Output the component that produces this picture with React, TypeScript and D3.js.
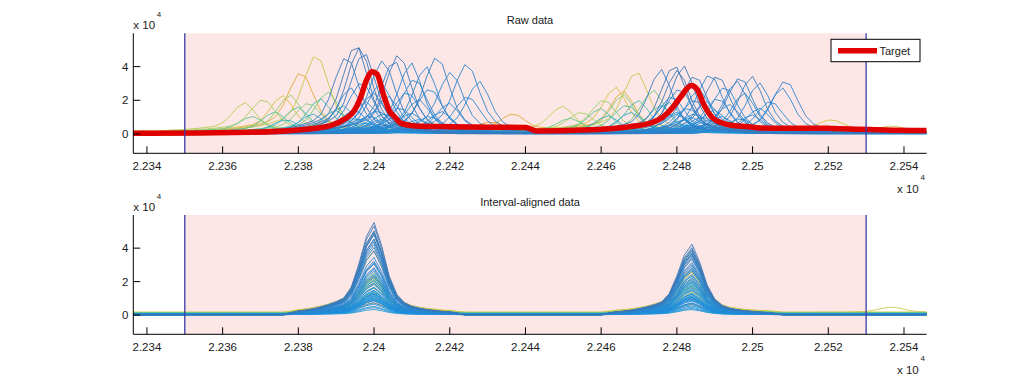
import React from "react";
import * as d3 from "d3";

// ---------- data ----------
const xTicks = [22340, 22360, 22380, 22400, 22420, 22440, 22460, 22480, 22500, 22520, 22540];
const xTickLabels = ["2.234", "2.236", "2.238", "2.24", "2.242", "2.244", "2.246", "2.248", "2.25", "2.252", "2.254"];
const yTicks = [0, 20000, 40000];
const yTickLabels = ["0", "2", "4"];
const xLimits = [22336.4, 22546];
const yLimits = [-11500, 59800];
const intervalBounds = [22350, 22530];
const alignedPeaks = [22400, 22484];
const sampleX = d3.range(22336, 22547, 2);

// normalised peak shape (offset from apex -> fraction of height)
const profileOffsets = [-24, -20, -18, -16, -14, -12, -10, -8, -6, -4, -2, 0, 2, 4, 6, 8, 10, 12, 14, 16, 18, 20, 24];
const profileShape = [0, 0.04, 0.05, 0.065, 0.085, 0.11, 0.14, 0.18, 0.3, 0.55, 0.85, 1.0, 0.75, 0.42, 0.22, 0.13, 0.09, 0.07, 0.055, 0.045, 0.035, 0.03, 0];

// per-trace peaks of the raw data
const rawPeak1 = [
  22388, 22381, 22376, 22385, 22366, 22371, 22378, 22383, 22388, 22368, 22374, 22380, 22386, 22390, 22377, 22384, 22392, 22395,
  22396, 22400, 22404, 22398, 22408, 22402, 22412, 22397, 22406, 22415, 22399, 22410, 22403, 22418, 22401, 22395,
  22407, 22420, 22398, 22412, 22404, 22425, 22400, 22409, 22394, 22415, 22402, 22428, 22397, 22411,
  22420.6, 22413.9, 22410, 22424.8, 22402.6, 22405.5, 22416.9, 22393, 22406.8, 22397.5, 22396.5, 22395.4,
];
const peak1Height = [
  6000, 37000, 21000, 48000, 17000, 20000, 22000, 18000, 24000, 9000, 12000, 15000, 20000, 13000, 8000, 11000, 16000, 9000,
  3000, 4000, 5000, 6000, 7000, 8000, 8500, 9000, 10000, 10500, 11000, 12000, 12500, 13000, 14000, 14500,
  16000, 18000, 19000, 20000, 22000, 23000, 24000, 26000, 27000, 28000, 30000, 31000, 32000, 34000,
  38000, 40000, 42000, 43500, 45000, 45000, 48000, 48000, 49000, 50000, 53000, 55000,
];
const rawPeak2 = [
  22474, 22466, 22464, 22469.5, 22450, 22455, 22461, 22466, 22474, 22452, 22460, 22467, 22470, 22476, 22462, 22468, 22478, 22480,
  22481, 22484, 22487, 22483, 22490, 22486, 22494, 22482, 22489, 22497, 22484, 22492, 22487, 22500, 22485, 22480,
  22490, 22502, 22483, 22494, 22488, 22505, 22485, 22491, 22479, 22498, 22486, 22508, 22481, 22493,
  22502, 22496, 22489, 22509, 22485, 22497, 22500, 22476, 22491, 22482, 22480.5, 22479.5,
];
const peak2Height = [
  5000, 24000, 26000, 37000, 15000, 12000, 20000, 22000, 25000, 8000, 14000, 17000, 19000, 16000, 10000, 12000, 18000, 11000,
  3000, 3500, 4500, 5000, 6000, 6500, 7000, 8000, 8500, 9000, 9500, 10000, 10500, 11000, 12000, 12500,
  14000, 15000, 16000, 17000, 19000, 20000, 21000, 22000, 23000, 24000, 26000, 27000, 28000, 29000,
  30000, 31000, 37000, 33000, 36000, 35000, 34000, 38000, 36000, 40000, 39000, 42000,
];
const baseline = [
  1400, 1500, 1800, 1400, 1600, 1500, 1200, 1300, 1000, 1400, 1100, 1000, 900, 900, 800, 800, 700, 700,
  300, 400, 200, 500, 300, 600, 200, 400, 300, 500, 300, 400, 200, 300, 500, 300,
  400, 300, 200, 500, 300, 400, 300, 200, 400, 300, 500, 300, 200, 400,
  300, 400, 200, 300, 400, 300, 200, 300, 400, 300, 200, 300,
];
// small extra bumps on a few raw traces
const minorTrace = [0, 1, 2, 3];
const minorPeak = [22431, 22437, 22521, 22537];
const minorHeight = [6000, 11000, 7000, 3500];

// red target signal
const targetX = [22336, 22341, 22367, 22380, 22386, 22389, 22392, 22394.5, 22396.5, 22398, 22399.5, 22400.8, 22402.4, 22404, 22405.5, 22407, 22409, 22411, 22420, 22433, 22440, 22443, 22455, 22467.5, 22473, 22476.3, 22479, 22481, 22483.8, 22485.5, 22487, 22489.5, 22492, 22494, 22499, 22502, 22510, 22521, 22528, 22535, 22546];
const targetY = [400, 400, 1000, 2400, 3800, 5300, 8500, 13000, 22000, 32000, 37000, 35500, 24000, 14000, 10000, 6500, 5300, 4700, 4300, 4000, 3800, 1800, 2300, 4300, 6500, 10000, 16000, 22000, 28800, 26000, 18000, 9400, 6500, 5300, 4300, 3600, 3400, 3300, 2800, 2300, 2000];

// ---------- styles ----------
const paletteStops = [0, 0.035, 0.07, 0.11, 0.16, 0.22, 0.28, 0.4, 0.8, 1];
const paletteColors = ["#e8962e", "#d6c244", "#b6d052", "#8ecf72", "#5cc78f", "#3ab6b6", "#28a0d8", "#1e90de", "#2a88d2", "#3a78b8"];
const FONT = "'Liberation Sans', Arial, Helvetica, sans-serif";

const W = 1023;
const H = 382;
const axLeft = 133.3;
const axRight = 926.7;

const profile = d3.scaleLinear().domain(profileOffsets).range(profileShape).clamp(true);
const colorScale = d3
  .scaleLinear<string>()
  .domain(paletteStops)
  .range(paletteColors)
  .interpolate(d3.interpolateRgb);

function traceSeries(i: number, aligned: boolean): [number, number][] {
  const c1 = aligned ? alignedPeaks[0] : rawPeak1[i];
  const c2 = aligned ? alignedPeaks[1] : rawPeak2[i];
  return sampleX.map((x) => {
    let v = baseline[i] + peak1Height[i] * profile(x - c1) + peak2Height[i] * profile(x - c2);
    minorTrace.forEach((t, k) => {
      if (t !== i) return;
      const m = minorPeak[k];
      const inside = m > intervalBounds[0] && m < intervalBounds[1];
      if (aligned && inside) return;
      v += minorHeight[k] * profile(x - m);
    });
    return [x, v];
  });
}

function Panel({ top, bottom, title, aligned, id }: { top: number; bottom: number; title: string; aligned: boolean; id: string }) {
  const x = d3.scaleLinear().domain(xLimits).range([axLeft, axRight]);
  const y = d3.scaleLinear().domain(yLimits).range([bottom, top]);
  const line = d3
    .line<[number, number]>()
    .x((d) => x(d[0]))
    .y((d) => y(d[1]));
  const smooth = d3
    .line<number>()
    .x((_, k) => x(targetX[k]))
    .y((d) => y(d))
    .curve(d3.curveMonotoneX);
  const N = rawPeak1.length;
  const tickLen = 7;
  return (
    <g>
      <defs>
        <clipPath id={id}>
          <rect x={axLeft} y={top} width={axRight - axLeft} height={bottom - top} />
        </clipPath>
      </defs>
      <rect
        x={x(intervalBounds[0])}
        y={top}
        width={x(intervalBounds[1]) - x(intervalBounds[0])}
        height={bottom - top}
        fill="#fce6e6"
      />
      <g clipPath={`url(#${id})`}>
        {d3.range(N).map((i) => (
          <path
            key={i}
            d={line(traceSeries(i, aligned)) || ""}
            fill="none"
            stroke={colorScale(i / (N - 1))}
            strokeWidth={0.9}
            strokeLinejoin="round"
          />
        ))}
        {!aligned && (
          <path d={smooth(targetY) || ""} fill="none" stroke="#e00000" strokeWidth={5.5} strokeLinejoin="round" />
        )}
      </g>
      {intervalBounds.map((b, k) => (
        <line key={k} x1={x(b)} x2={x(b)} y1={top} y2={bottom} stroke="#3b3ba8" strokeWidth={1.3} />
      ))}
      {/* axes */}
      <line x1={axLeft} x2={axRight} y1={bottom} y2={bottom} stroke="#000" strokeWidth={1} />
      <line x1={axLeft} x2={axLeft} y1={top} y2={bottom} stroke="#000" strokeWidth={1} />
      {xTicks.map((t, k) => (
        <g key={k}>
          <line x1={x(t)} x2={x(t)} y1={bottom} y2={bottom - tickLen} stroke="#000" strokeWidth={1} />
          <text x={x(t)} y={bottom + 16.5} textAnchor="middle" fontSize={11.5} fontFamily={FONT} fill="#1a1a1a">
            {xTickLabels[k]}
          </text>
        </g>
      ))}
      {yTicks.map((t, k) => (
        <g key={k}>
          <line x1={axLeft} x2={axLeft + tickLen} y1={y(t)} y2={y(t)} stroke="#000" strokeWidth={1} />
          <text x={128.5} y={y(t) + 4} textAnchor="end" fontSize={11.5} fontFamily={FONT} fill="#1a1a1a">
            {yTickLabels[k]}
          </text>
        </g>
      ))}
      {/* exponent labels */}
      <text x={axLeft} y={top - 4.5} fontSize={11.5} fontFamily={FONT} fill="#1a1a1a">x 10</text>
      <text x={axLeft + 23.5} y={top - 16} fontSize={8} fontFamily={FONT} fill="#1a1a1a">4</text>
      <text x={897} y={bottom + 39.5} fontSize={11.5} fontFamily={FONT} fill="#1a1a1a">x 10</text>
      <text x={920.5} y={bottom + 26.5} fontSize={8} fontFamily={FONT} fill="#1a1a1a">4</text>
      {/* title */}
      <text x={(axLeft + axRight) / 2} y={top - 9} textAnchor="middle" fontSize={11} fontFamily={FONT} fill="#1a1a1a">
        {title}
      </text>
      {!aligned && (
        <g>
          <rect x={831} y={39.3} width={89} height={22.4} fill="#fff" stroke="#000" strokeWidth={1} />
          <line x1={838} x2={877} y1={50.7} y2={50.7} stroke="#e00000" strokeWidth={5.5} />
          <text x={879.5} y={55} fontSize={11} fontFamily={FONT} fill="#1a1a1a">
            Target
          </text>
        </g>
      )}
    </g>
  );
}

export default function App() {
  return (
    <svg
      width={W}
      height={H}
      viewBox={`0 0 ${W} ${H}`}
      style={{ position: "absolute", left: 0, top: 0, background: "#fff" }}
    >
      <rect x={0} y={0} width={W} height={H} fill="#fff" />
      <Panel top={33.3} bottom={153.3} title="Raw data" aligned={false} id="clipRaw" />
      <Panel top={215} bottom={334.3} title="Interval-aligned data" aligned={true} id="clipAligned" />
    </svg>
  );
}
